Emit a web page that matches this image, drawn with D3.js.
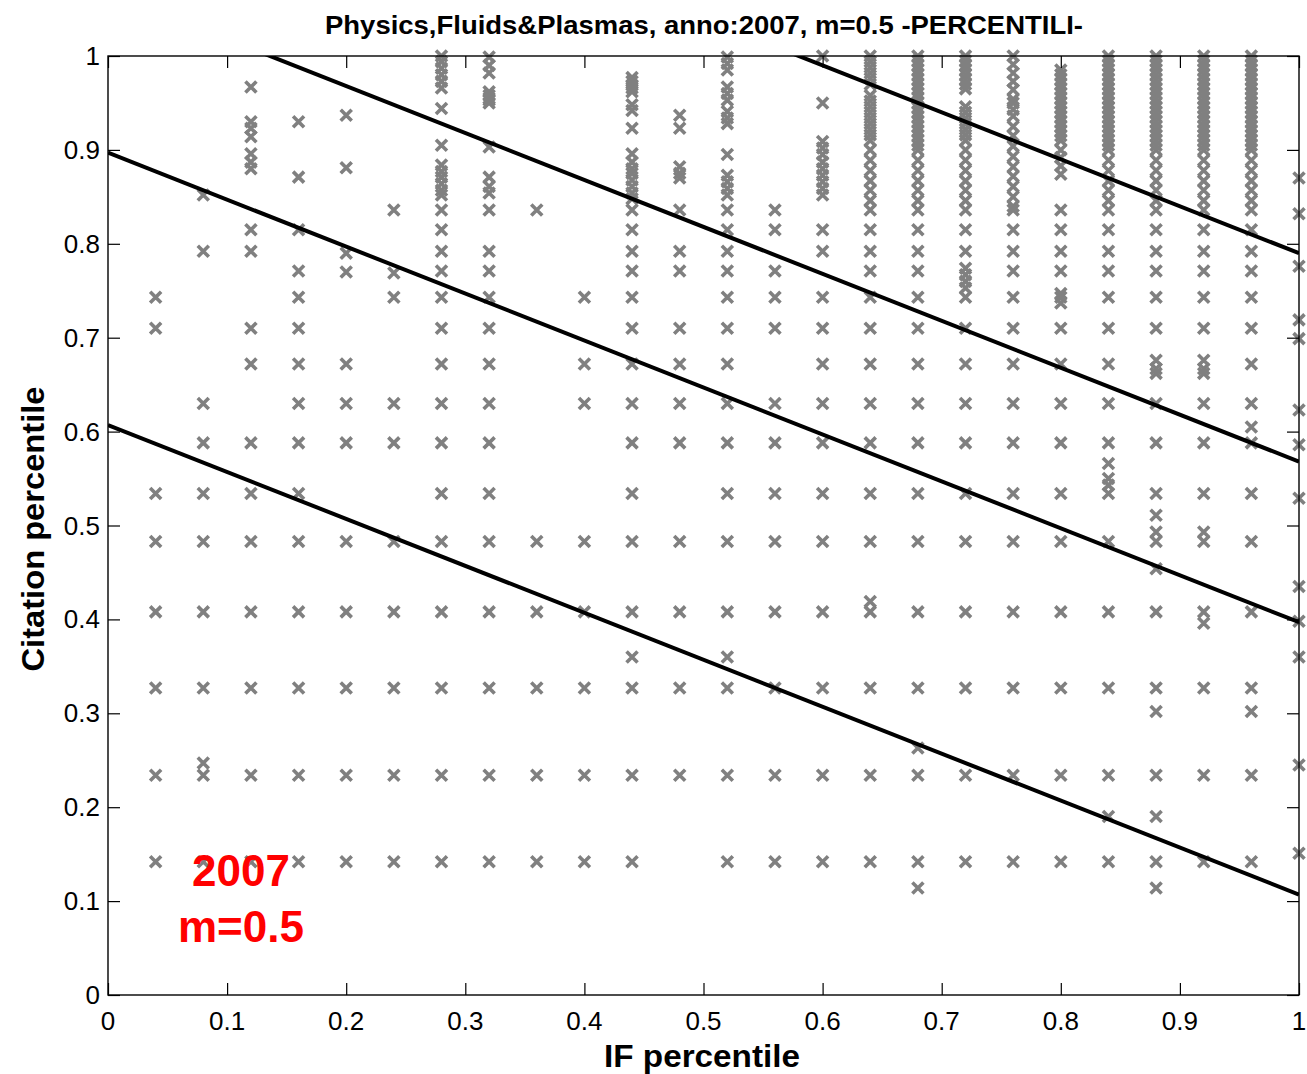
<!DOCTYPE html>
<html>
<head>
<meta charset="utf-8">
<script src="https://cdn.jsdelivr.net/npm/d3@7/dist/d3.min.js"></script>
<style>
  html, body { margin: 0; padding: 0; background: #fff; }
  svg { display: block; }
  text { font-family: "Liberation Sans", Arial, Helvetica, sans-serif; }
</style>
</head>
<body>
<div id="chart"></div>
<script>
// ---------------- DATA ----------------
const titleText = "Physics,Fluids&Plasmas, anno:2007, m=0.5 -PERCENTILI-";
const xLabelText = "IF percentile";
const yLabelText = "Citation percentile";
const annotationLines = ["2007", "m=0.5"];

const xTickValues = [0, 0.1, 0.2, 0.3, 0.4, 0.5, 0.6, 0.7, 0.8, 0.9, 1];
const xTickLabels = ["0", "0.1", "0.2", "0.3", "0.4", "0.5", "0.6", "0.7", "0.8", "0.9", "1"];
const yTickValues = [0, 0.1, 0.2, 0.3, 0.4, 0.5, 0.6, 0.7, 0.8, 0.9, 1];
const yTickLabels = ["0", "0.1", "0.2", "0.3", "0.4", "0.5", "0.6", "0.7", "0.8", "0.9", "1"];

// IF percentile of each column of points
const ifPercentiles = [0.04, 0.08, 0.12, 0.16, 0.20, 0.24, 0.28, 0.32, 0.36, 0.40, 0.44, 0.48, 0.52,
                       0.56, 0.60, 0.64, 0.68, 0.72, 0.76, 0.80, 0.84, 0.88, 0.92, 0.96, 1.00];

// citation percentiles observed in each column
const denseTopBand = [1.000, 0.995, 0.990, 0.985, 0.980, 0.975, 0.970, 0.965, 0.960, 0.955,
                      0.950, 0.945, 0.940, 0.935, 0.930, 0.925, 0.920, 0.915, 0.910, 0.905];
const denseLowBand = [0.900, 0.889, 0.878, 0.867, 0.857, 0.846, 0.836];

const cit04 = [0.142, 0.234, 0.327, 0.408, 0.483, 0.534, 0.710, 0.743];
const cit08 = [0.142, 0.234, 0.247, 0.327, 0.408, 0.483, 0.534, 0.588, 0.630, 0.792, 0.852];
const cit12 = [0.142, 0.234, 0.327, 0.408, 0.483, 0.534, 0.588, 0.672, 0.710, 0.792, 0.815, 0.880, 0.887, 0.896, 0.914, 0.923, 0.930, 0.967];
const cit16 = [0.142, 0.234, 0.327, 0.408, 0.483, 0.534, 0.588, 0.630, 0.672, 0.710, 0.743, 0.771, 0.815, 0.871, 0.930];
const cit20 = [0.142, 0.234, 0.327, 0.408, 0.483, 0.588, 0.630, 0.672, 0.770, 0.790, 0.881, 0.937];
const cit24 = [0.142, 0.234, 0.327, 0.408, 0.483, 0.588, 0.630, 0.743, 0.769, 0.836];
const cit28 = [0.142, 0.234, 0.327, 0.408, 0.483, 0.534, 0.588, 0.630, 0.672, 0.710, 0.743, 0.771, 0.792, 0.815, 0.836,
               0.852, 0.857, 0.864, 0.871, 0.877, 0.884, 0.905, 0.944, 0.966, 0.973, 0.980, 0.987, 0.994, 1.000];
const cit32 = [0.142, 0.234, 0.327, 0.408, 0.483, 0.534, 0.588, 0.630, 0.672, 0.710, 0.743, 0.771, 0.792, 0.836,
               0.854, 0.861, 0.871, 0.903, 0.950, 0.953, 0.955, 0.958, 0.962, 0.982, 0.990, 0.999];
const cit36 = [0.142, 0.234, 0.327, 0.408, 0.483, 0.836];
const cit40 = [0.142, 0.234, 0.327, 0.408, 0.483, 0.630, 0.672, 0.743];
const cit44 = [0.142, 0.234, 0.327, 0.360, 0.408, 0.483, 0.534, 0.588, 0.630, 0.672, 0.710, 0.743, 0.771, 0.792, 0.815, 0.836,
               0.848, 0.854, 0.861, 0.868, 0.875, 0.880, 0.887, 0.896, 0.923, 0.942, 0.948, 0.962, 0.966, 0.969, 0.973, 0.977];
const cit48 = [0.234, 0.327, 0.408, 0.483, 0.588, 0.630, 0.672, 0.710, 0.771, 0.792, 0.836, 0.870, 0.875, 0.882, 0.923, 0.937];
const cit52 = [0.142, 0.234, 0.327, 0.360, 0.408, 0.483, 0.534, 0.588, 0.630, 0.672, 0.710, 0.743, 0.771, 0.792, 0.815, 0.836,
               0.852, 0.859, 0.866, 0.873, 0.895, 0.928, 0.934, 0.941, 0.953, 0.960, 0.967, 0.985, 0.992, 0.999];
const cit56 = [0.142, 0.234, 0.327, 0.408, 0.483, 0.534, 0.588, 0.630, 0.710, 0.743, 0.771, 0.815, 0.836];
const cit60 = [0.142, 0.234, 0.327, 0.408, 0.483, 0.534, 0.588, 0.630, 0.672, 0.710, 0.743, 0.792, 0.815,
               0.852, 0.859, 0.866, 0.873, 0.880, 0.887, 0.895, 0.902, 0.909, 0.950, 1.000];
const cit64 = [0.142, 0.234, 0.327, 0.408, 0.419, 0.483, 0.534, 0.588, 0.630, 0.672, 0.710, 0.743, 0.771, 0.792, 0.815,
               0.836, 0.846, 0.857, 0.867, 0.878, 0.889, 0.900, 0.910, 0.916, 0.922, 0.928, 0.934, 0.940, 0.946, 0.952, 0.958,
               0.970, 0.976, 0.982, 0.988, 0.994, 1.000];
const cit68 = [0.114, 0.142, 0.234, 0.263, 0.327, 0.408, 0.483, 0.534, 0.588, 0.630, 0.672, 0.710, 0.743, 0.771, 0.792, 0.815,
               ...denseLowBand, ...denseTopBand];
const cit72 = [0.142, 0.234, 0.327, 0.408, 0.483, 0.534, 0.588, 0.630, 0.672, 0.710, 0.743, 0.753, 0.760, 0.767, 0.774, 0.792, 0.815,
               ...denseLowBand, 0.910, 0.916, 0.922, 0.928, 0.934, 0.940, 0.946,
               0.965, 0.970, 0.975, 0.980, 0.985, 0.990, 0.995, 1.000];
const cit76 = [0.142, 0.234, 0.327, 0.408, 0.483, 0.534, 0.588, 0.630, 0.672, 0.710, 0.743, 0.771, 0.792, 0.815,
               0.836, 0.840, 0.850, 0.861, 0.872, 0.882, 0.893, 0.904, 0.915, 0.925, 0.936, 0.943, 0.950, 0.954, 0.964, 0.973, 0.982, 0.991, 1.000];
const cit80 = [0.142, 0.234, 0.327, 0.408, 0.483, 0.534, 0.588, 0.630, 0.672, 0.710, 0.737, 0.743, 0.747, 0.771, 0.792, 0.815, 0.836,
               0.874, 0.883, 0.892, 0.900, 0.910, 0.915, 0.920, 0.925, 0.930, 0.935, 0.940, 0.945, 0.950, 0.955, 0.960,
               0.965, 0.970, 0.975, 0.980, 0.985];
const cit84 = [0.142, 0.190, 0.234, 0.327, 0.408, 0.483, 0.534, 0.543, 0.550, 0.566, 0.588, 0.630, 0.672, 0.710, 0.743, 0.771, 0.792, 0.815,
               ...denseLowBand, ...denseTopBand];
const cit88 = [0.114, 0.142, 0.190, 0.234, 0.302, 0.327, 0.408, 0.454, 0.483, 0.493, 0.511, 0.534, 0.588, 0.630, 0.662, 0.667, 0.676,
               0.710, 0.743, 0.771, 0.792, 0.815, ...denseLowBand, ...denseTopBand];
const cit92 = [0.142, 0.234, 0.327, 0.396, 0.408, 0.483, 0.493, 0.534, 0.588, 0.630, 0.662, 0.667, 0.676, 0.710, 0.743, 0.771, 0.792, 0.815,
               ...denseLowBand, ...denseTopBand];
const cit96 = [0.142, 0.234, 0.302, 0.327, 0.408, 0.483, 0.534, 0.588, 0.605, 0.630, 0.672, 0.710, 0.743, 0.771, 0.792, 0.815,
               ...denseLowBand, ...denseTopBand];
const cit100 = [0.151, 0.245, 0.360, 0.398, 0.435, 0.529, 0.586, 0.623, 0.699, 0.719, 0.776, 0.832, 0.870];

const citationColumns = [cit04, cit08, cit12, cit16, cit20, cit24, cit28, cit32, cit36, cit40, cit44, cit48, cit52,
                         cit56, cit60, cit64, cit68, cit72, cit76, cit80, cit84, cit88, cit92, cit96, cit100];

// iso-lines  citation = intercept - 0.5 * IF
const isoSlope = -0.5;
const isoIntercepts = [0.607, 0.897, 1.068, 1.290];

// ---------------- CHART ----------------
const W = 1307, H = 1074;
const plot = { left: 108, right: 1299, top: 56, bottom: 995 };

const svg = d3.select("#chart").append("svg").attr("width", W).attr("height", H);

const x = d3.scaleLinear().domain([0, 1]).range([plot.left, plot.right]);
const y = d3.scaleLinear().domain([0, 1]).range([plot.bottom, plot.top]);

svg.append("defs").append("clipPath").attr("id", "plotclip")
  .append("rect").attr("x", plot.left).attr("y", plot.top)
  .attr("width", plot.right - plot.left).attr("height", plot.bottom - plot.top);

// points
const points = [];
ifPercentiles.forEach((xv, i) => citationColumns[i].forEach(yv => points.push({ x: xv, y: yv })));

const markerPath = "M-5.5,-5.5L5.5,5.5M-5.5,5.5L5.5,-5.5";
svg.append("g").attr("class", "points")
  .selectAll("path").data(points).join("path")
  .attr("d", markerPath)
  .attr("transform", d => `translate(${x(d.x)},${y(d.y)})`)
  .attr("fill", "none")
  .attr("stroke", "#808080")
  .attr("stroke-width", 3.6);

// iso lines
const lineGen = d3.line().x(d => x(d[0])).y(d => y(d[1]));
svg.append("g").attr("clip-path", "url(#plotclip)")
  .selectAll("path").data(isoIntercepts).join("path")
  .attr("d", c => lineGen([[0, c], [1, c + isoSlope]]))
  .attr("fill", "none")
  .attr("stroke", "#000")
  .attr("stroke-width", 4);

// axes (ticks inside on all four sides)
const tickLen = 12;
const bottomAxis = d3.axisBottom(x).tickValues(xTickValues).tickSize(-tickLen).tickFormat(() => "");
const topAxis = d3.axisTop(x).tickValues(xTickValues).tickSize(-tickLen).tickFormat(() => "");
const leftAxis = d3.axisLeft(y).tickValues(yTickValues).tickSize(-tickLen).tickFormat(() => "");
const rightAxis = d3.axisRight(y).tickValues(yTickValues).tickSize(-tickLen).tickFormat(() => "");

function styleAxis(g) {
  g.selectAll(".domain").remove();
  g.selectAll(".tick line").attr("stroke", "#000").attr("stroke-width", 1.2);
}
svg.append("g").attr("transform", `translate(0,${plot.bottom})`).call(bottomAxis).call(styleAxis);
svg.append("g").attr("transform", `translate(0,${plot.top})`).call(topAxis).call(styleAxis);
svg.append("g").attr("transform", `translate(${plot.left},0)`).call(leftAxis).call(styleAxis);
svg.append("g").attr("transform", `translate(${plot.right},0)`).call(rightAxis).call(styleAxis);

svg.append("rect")
  .attr("x", plot.left).attr("y", plot.top)
  .attr("width", plot.right - plot.left).attr("height", plot.bottom - plot.top)
  .attr("fill", "none").attr("stroke", "#000").attr("stroke-width", 1.4);

// tick labels
svg.append("g").selectAll("text").data(xTickValues).join("text")
  .attr("x", d => x(d)).attr("y", 1030)
  .attr("text-anchor", "middle")
  .attr("font-size", 26)
  .text((d, i) => xTickLabels[i]);

svg.append("g").selectAll("text").data(yTickValues).join("text")
  .attr("x", plot.left - 8).attr("y", d => y(d) + 9)
  .attr("text-anchor", "end")
  .attr("font-size", 26)
  .text((d, i) => yTickLabels[i]);

// title and axis labels
svg.append("text")
  .attr("x", 704).attr("y", 34)
  .attr("text-anchor", "middle").attr("font-weight", "bold").attr("font-size", 26)
  .attr("textLength", 758).attr("lengthAdjust", "spacingAndGlyphs")
  .text(titleText);

svg.append("text")
  .attr("x", 702).attr("y", 1067)
  .attr("text-anchor", "middle").attr("font-weight", "bold").attr("font-size", 32)
  .attr("textLength", 196).attr("lengthAdjust", "spacingAndGlyphs")
  .text(xLabelText);

svg.append("text")
  .attr("transform", `translate(44,529) rotate(-90)`)
  .attr("text-anchor", "middle").attr("font-weight", "bold").attr("font-size", 32)
  .attr("textLength", 285).attr("lengthAdjust", "spacingAndGlyphs")
  .text(yLabelText);

// red annotation
svg.append("g").selectAll("text").data(annotationLines).join("text")
  .attr("x", 241).attr("y", (d, i) => 886 + i * 56)
  .attr("text-anchor", "middle").attr("font-weight", "bold").attr("font-size", 44)
  .attr("fill", "#ff0000")
  .text(d => d);
</script>
</body>
</html>
